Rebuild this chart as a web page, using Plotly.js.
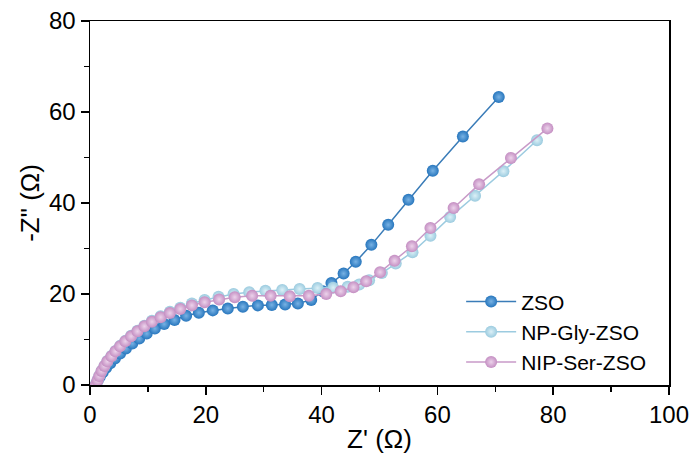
<!DOCTYPE html>
<html><head><meta charset="utf-8">
<script src="https://cdn.plot.ly/plotly-3.0.1.min.js"></script>
<style>html,body{margin:0;padding:0;background:#fff}#chart{width:695px;height:463px}</style>
</head><body><div id="chart"></div>
<script>
const seriesNames = ["ZSO", "NP-Gly-ZSO", "NIP-Ser-ZSO"];

const zsoX = [1.0,1.3,1.7,2.2,2.8,3.5,4.3,5.2,6.2,7.3,8.5,9.8,11.2,12.8,14.6,16.6,18.8,21.2,23.8,26.4,29.0,31.4,33.7,35.9,38.2,40.2,41.7,43.8,45.9,48.6,51.5,55.0,59.2,64.4,70.6];
const zsoY = [0,0.9,1.8,2.8,3.8,4.8,5.8,6.9,8.0,9.1,10.2,11.3,12.4,13.4,14.3,15.2,15.9,16.4,16.8,17.2,17.5,17.6,17.7,17.9,18.7,20.6,22.4,24.5,27.1,30.8,35.2,40.7,47.1,54.6,63.3];

const glyX = [1.0,1.3,1.6,2.0,2.5,3.0,3.7,4.4,5.2,6.1,7.1,8.2,9.4,10.7,12.2,13.8,15.6,17.6,19.8,22.2,24.8,27.5,30.3,33.2,36.2,39.3,42.0,44.5,46.5,48.2,50.4,52.8,55.7,58.8,62.2,66.5,71.4,77.2];
const glyY = [0,1.0,2.0,3.1,4.2,5.3,6.4,7.5,8.6,9.7,10.8,11.9,13.0,14.1,15.1,16.1,17.0,17.9,18.7,19.4,20.0,20.4,20.7,20.9,21.1,21.3,21.4,21.6,22.1,23.0,24.6,26.7,29.2,32.8,36.9,41.6,47.0,53.8];

const serX = [1.0,1.3,1.6,2.0,2.5,3.0,3.7,4.4,5.2,6.1,7.1,8.2,9.4,10.7,12.2,13.8,15.6,17.6,19.8,22.3,25.0,28.0,31.2,34.5,37.8,40.8,43.3,45.5,47.7,50.1,52.6,55.6,58.8,62.8,67.2,72.7,79.0];
const serY = [0,1.0,2.0,3.1,4.2,5.2,6.3,7.4,8.5,9.6,10.7,11.8,12.9,13.9,14.9,15.8,16.7,17.5,18.2,18.8,19.3,19.6,19.6,19.5,19.6,20.0,20.6,21.5,22.8,24.8,27.3,30.5,34.5,38.9,44.1,49.9,56.4];

const xTicks = [0,20,40,60,80,100];
const yTicks = [0,20,40,60,80];

const colors = ["#2776bd", "#9bcbdf", "#c48ec2"];
const lineColors = ["#3a7cb8", "#9ccbe0", "#c89ac8"];
const glow = ["#78b2e4", "#dcf0f7", "#ecd3eb"];

function tr(x, y, i) {
  return {
    x: x, y: y, name: seriesNames[i], type: "scatter", mode: "lines+markers",
    line: {color: lineColors[i], width: 1.5},
    marker: {size: 12, color: colors[i], gradient: {type: "radial", color: glow[i]}, line: {width: 0}}
  };
}

const data = [tr(zsoX, zsoY, 0), tr(glyX, glyY, 1), tr(serX, serY, 2)];

const FONT = "Liberation Sans, Arial, Helvetica, sans-serif";
const axisCommon = {
  showgrid: false, zeroline: false, showline: true, linecolor: "#000", linewidth: 1.5,
  mirror: true, ticks: "outside", ticklen: 8, tickwidth: 1.5, tickcolor: "#000",
  tickfont: {size: 24, color: "#000", family: FONT}
};

const layout = {
  width: 695, height: 463,
  margin: {l: 90, r: 26, t: 21, b: 78},
  paper_bgcolor: "#fff", plot_bgcolor: "#fff",
  font: {family: FONT, color: "#000"},
  showlegend: true,
  legend: {x: 0.641, y: 0.285, xanchor: "left", yanchor: "top", bgcolor: "rgba(0,0,0,0)",
           font: {size: 21, color: "#000", family: FONT}, itemwidth: 50, tracegroupgap: 0},
  xaxis: Object.assign({}, axisCommon, {
    range: [0, 100], tickvals: xTicks, ticktext: xTicks.map(String),
    minor: {dtick: 10, tick0: 0, ticks: "outside", ticklen: 5, tickwidth: 1.5, tickcolor: "#000"},
    title: {text: "Z' (Ω)", font: {size: 26, color: "#000", family: FONT}, standoff: 2}
  }),
  yaxis: Object.assign({}, axisCommon, {
    range: [0, 80], tickvals: yTicks, ticktext: yTicks.map(String),
    minor: {dtick: 10, tick0: 0, ticks: "outside", ticklen: 5, tickwidth: 1.5, tickcolor: "#000"},
    title: {text: "-Z\" (Ω)", font: {size: 26, color: "#000", family: FONT}, standoff: 2}
  })
};

Plotly.newPlot("chart", data, layout, {displayModeBar: false, staticPlot: true});
</script></body></html>
